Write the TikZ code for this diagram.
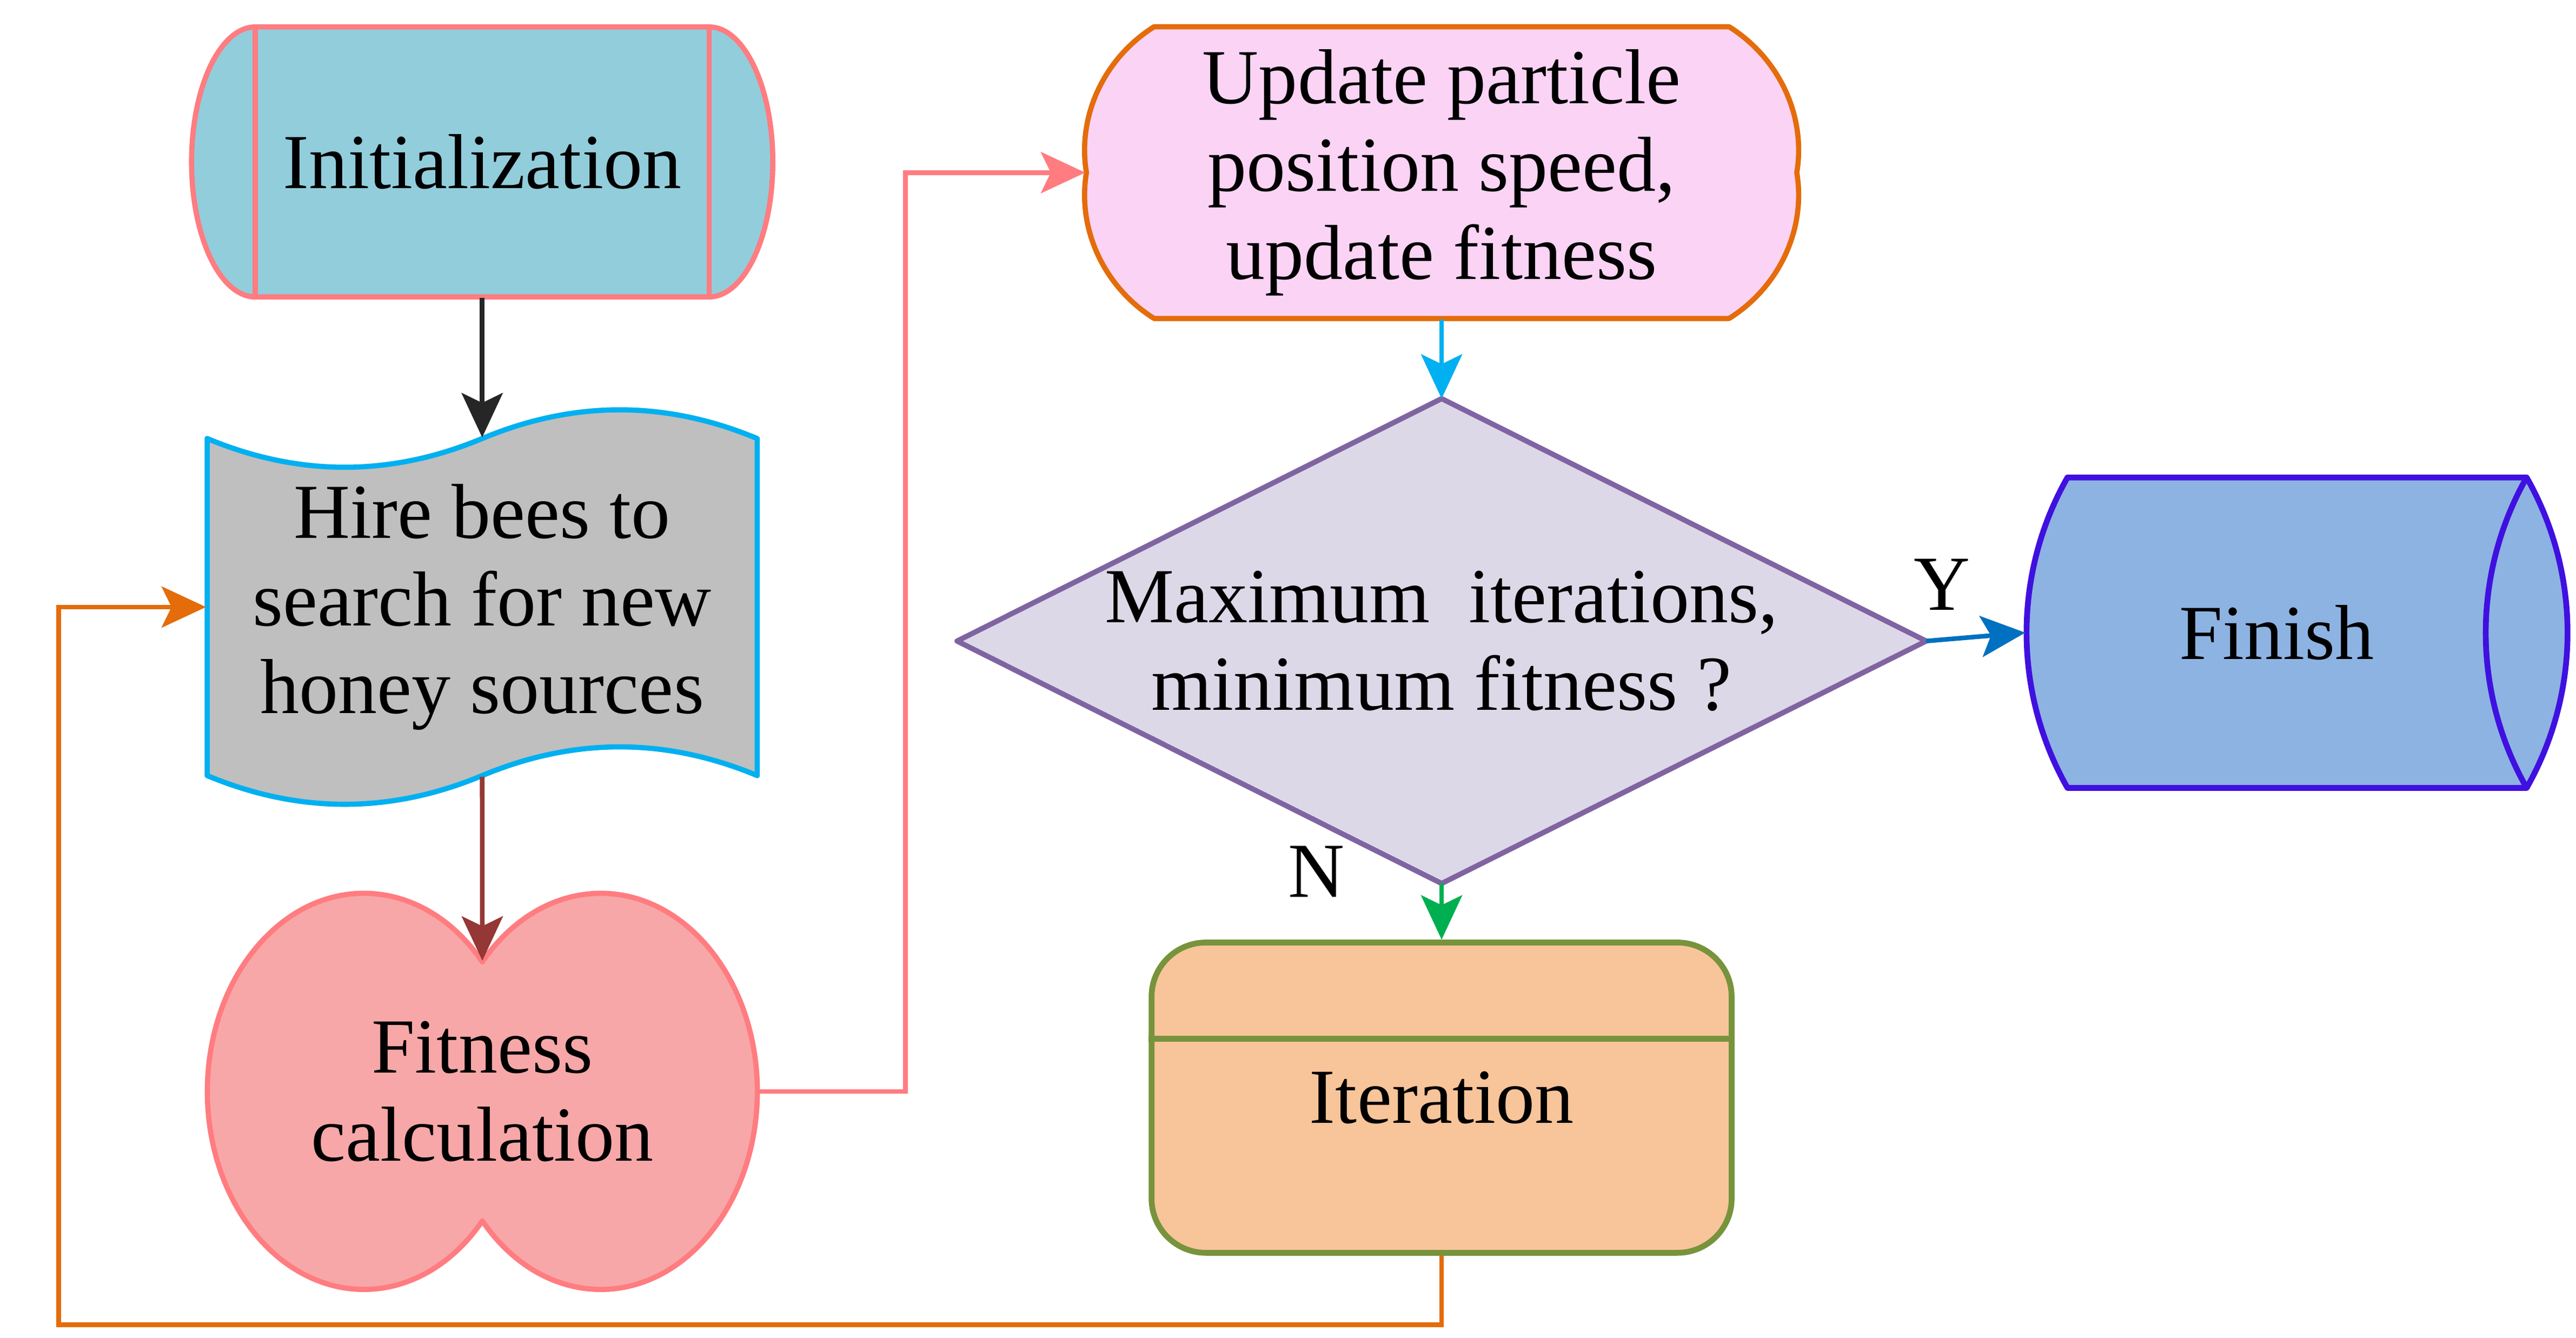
\documentclass[tikz,border=0pt]{standalone}
\usepackage{fontspec}
\setmainfont{Liberation Serif}
\usetikzlibrary{arrows.meta,backgrounds,calc}

\definecolor{initfill}{HTML}{92CDDC}
\definecolor{pinkline}{HTML}{FF7C80}
\definecolor{hirefill}{HTML}{BFBFBF}
\definecolor{cyanline}{HTML}{00B0F0}
\definecolor{fitfill}{HTML}{F7A7A7}
\definecolor{updfill}{HTML}{FBD3F5}
\definecolor{orangeline}{HTML}{E46C0A}
\definecolor{diafill}{HTML}{DDD8E7}
\definecolor{dialine}{HTML}{8064A2}
\definecolor{finfill}{HTML}{8DB3E2}
\definecolor{finline}{HTML}{4010E0}
\definecolor{iterfill}{HTML}{F8C49A}
\definecolor{iterline}{HTML}{77933C}
\definecolor{darkred}{HTML}{953735}
\definecolor{blueline}{HTML}{0070C0}
\definecolor{greenline}{HTML}{00B050}

\begin{document}
\begin{tikzpicture}[x=0.1mm,y=-0.1mm,font=\fontsize{13.5}{15.2}\selectfont,
    outline/.style={line width=0.9pt,line join=round},
    flow/.style={line width=0.8pt,-{Stealth[length=2.7mm,width=2.5mm,inset=0.6mm]}}]

  \useasboundingbox (0,0) rectangle (1568,814.6);

  \begin{scope}[every node/.style={inner sep=0pt,align=center}]
    \node[minimum width=35.38mm,minimum height=16.44mm] (init) at (293.5,98.6) {Initialization};
    \node[minimum width=33.48mm,minimum height=20.52mm] (hire) at (293.5,369.6) {Hire bees to\\search for new\\honey sources};
    \node[minimum width=33.51mm,minimum height=15.78mm] (fit) at (293.6,664.5) {Fitness\\calculation};
    \node[minimum width=43.24mm,minimum height=17.76mm] (upd) at (877.5,105.1) {Update particle\\position speed,\\update fitness};
    \node[minimum width=58.85mm,minimum height=29.38mm] (dia) at (877.5,390.3) {Maximum~~iterations,\\minimum fitness ?};
    \node[minimum width=30.45mm,minimum height=18.9mm] (fin) at (1385.75,385.2) {Finish};
    \node[minimum width=35.31mm,minimum height=18.89mm,draw=iterline,fill=iterfill,
          rounded corners=3.3mm,line width=1pt] (iter) at (877.5,668.3) {Iteration};
    \node (ylab) at (1182,355.8) {Y};
    \node (nlab) at (801.3,530.7) {N};
  \end{scope}

  \draw[iterline,line width=1pt] ($(iter.north west)+(0,60.3)$) -- ($(iter.north east)+(0,60.3)$);

  \begin{scope}[on background layer]
    \filldraw[outline,draw=pinkline,fill=initfill,shift={(init.center)}]
      (-138.1,-82.2) -- (138.1,-82.2) arc[start angle=90,end angle=-90,x radius=3.88mm,y radius=8.22mm]
      -- (-138.1,82.2) arc[start angle=270,end angle=90,x radius=3.88mm,y radius=8.22mm] -- cycle;
    \draw[outline,pinkline,shift={(init.center)}] (-138.1,-82.2) -- (-138.1,82.2) (138.1,-82.2) -- (138.1,82.2);

    \filldraw[outline,draw=cyanline,fill=hirefill,shift={(hire.center)}]
      (-167.4,-102.6) .. controls (-111.6,-79.3) and (-55.8,-79.3) .. (0,-102.6)
      .. controls (55.8,-125.9) and (111.6,-125.9) .. (167.4,-102.6)
      -- (167.4,102.6) .. controls (111.6,79.3) and (55.8,79.3) .. (0,102.6)
      .. controls (-55.8,125.9) and (-111.6,125.9) .. (-167.4,102.6) -- cycle;

    \filldraw[outline,draw=pinkline,fill=fitfill,shift={(fit.center)}]
      (0,-78.9) arc[start angle=40.84,end angle=319.16,x radius=9.53mm,y radius=12.06mm]
      arc[start angle=220.84,end angle=499.16,x radius=9.53mm,y radius=12.06mm] -- cycle;

    \filldraw[outline,draw=orangeline,fill=updfill,shift={(upd.center)}]
      (-175,-88.8) -- (175,-88.8) .. controls (205,-70) and (222,-35) .. (216.2,0)
      .. controls (222,35) and (205,70) .. (175,88.8)
      -- (-175,88.8) .. controls (-205,70) and (-222,35) .. (-216.2,0)
      .. controls (-222,-35) and (-205,-70) .. (-175,-88.8) -- cycle;

    \filldraw[outline,draw=dialine,fill=diafill] (dia.north) -- (dia.east) -- (dia.south) -- (dia.west) -- cycle;

    \filldraw[outline,draw=finline,fill=finfill,line width=1pt,shift={(fin.center)}]
      (-127.3,-94.5) -- (152.2,-94.5) .. controls (185.4,-36) and (185.4,36) .. (152.2,94.5)
      -- (-127.3,94.5) .. controls (-160.5,36) and (-160.5,-36) .. (-127.3,-94.5) -- cycle;
    \draw[outline,finline,line width=1pt,shift={(fin.center)}]
      (152.2,-94.5) .. controls (119,-36) and (119,36) .. (152.2,94.5);
  \end{scope}

  \begin{scope}[every edge/.style={draw,flow}]
    \path (init.south) edge[draw=black!85] (hire.north);
    \path (hire.south) edge[draw=darkred] (fit.north);
    \path (upd.south)  edge[draw=cyanline] (dia.north);
    \path (dia.east)   edge[draw=blueline] (fin.west);
    \path (dia.south)  edge[draw=greenline] (iter.north);
  \end{scope}

  \draw[flow,pinkline] (fit.east) -- ++(89.2,0) |- (upd.west);
  \draw[flow,orangeline] (iter.south) -- ++(0,42.1) -| ([xshift=-8.96mm]hire.west) -- (hire.west);

\end{tikzpicture}
\end{document}
